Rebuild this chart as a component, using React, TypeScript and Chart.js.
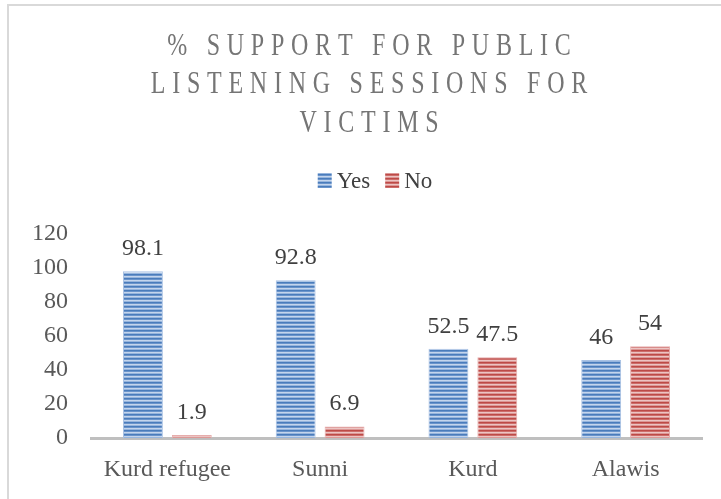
import React, { useEffect, useRef } from "react";
import { Chart, registerables } from "chart.js";

Chart.register(...registerables);

const categories = ["Kurd refugee", "Sunni", "Kurd", "Alawis"];
const yesValues = [98.1, 92.8, 52.5, 46];
const noValues = [1.9, 6.9, 47.5, 54];
const seriesNames = ["Yes", "No"];
const titleLines = ["% SUPPORT FOR PUBLIC", "LISTENING SESSIONS FOR", "VICTIMS"];
const yMin = 0;
const yMax = 120;
const yStep = 20;

const FONT = "'Liberation Serif', 'Times New Roman', serif";
const blueRows = ["#4a7cbb", "#6a94cb", "#c4d5ec", "#97b5dd"];
const redRows = ["#bd4a47", "#cd6d6a", "#ecc4c3", "#dc9896"];

function makePattern(rows: string[]) {
  const c = document.createElement("canvas");
  c.width = 4;
  c.height = rows.length;
  const x = c.getContext("2d")!;
  rows.forEach((col, i) => {
    x.fillStyle = col;
    x.fillRect(0, i, 4, 1);
  });
  return x.createPattern(c, "repeat")!;
}

export default function App() {
  const ref = useRef<HTMLCanvasElement | null>(null);

  useEffect(() => {
    if (!ref.current) return;
    const bluePat = makePattern(blueRows);
    const redPat = makePattern(redRows);
    const patterns = [bluePat, redPat];

    const overlay = {
      id: "overlay",
      afterDraw(chart: any) {
        const ctx = chart.ctx as CanvasRenderingContext2D;
        const cx = chart.width / 2;
        // Title
        ctx.save();
        ctx.fillStyle = "#757575";
        ctx.font = `32px ${FONT}`;
        ctx.textBaseline = "alphabetic";
        ctx.textAlign = "left";
        const sx = 0.75;
        const ls = 9;
        const baselines = [49, 87, 126];
        titleLines.forEach((line, i) => {
          const chars = [...line];
          const widths = chars.map((ch) => ctx.measureText(ch).width);
          const total = widths.reduce((a, b) => a + b, 0) + ls * (chars.length - 1);
          ctx.save();
          ctx.translate(cx, baselines[i]);
          ctx.scale(sx, 1);
          let x = -total / 2;
          chars.forEach((ch, k) => {
            ctx.fillText(ch, x, 0);
            x += widths[k] + ls;
          });
          ctx.restore();
        });
        ctx.restore();

        // Legend
        ctx.save();
        ctx.font = `23px ${FONT}`;
        ctx.textBaseline = "alphabetic";
        ctx.textAlign = "left";
        const boxW = 14;
        const boxH = 15;
        const gapBox = 5;
        const gapItem = 15;
        const itemWidths = seriesNames.map((n) => boxW + gapBox + ctx.measureText(n).width);
        const totalW = itemWidths.reduce((a, b) => a + b, 0) + gapItem * (seriesNames.length - 1);
        let lx = cx - totalW / 2 + 6;
        const legendBase = 182;
        seriesNames.forEach((n, i) => {
          ctx.fillStyle = patterns[i];
          ctx.fillRect(lx, legendBase - boxH, boxW, boxH);
          ctx.fillStyle = "#404040";
          ctx.fillText(n, lx + boxW + gapBox, legendBase);
          lx += itemWidths[i] + gapItem;
        });
        ctx.restore();

        // Data labels
        ctx.save();
        ctx.font = `24px ${FONT}`;
        ctx.fillStyle = "#404040";
        ctx.textAlign = "center";
        ctx.textBaseline = "alphabetic";
        chart.data.datasets.forEach((ds: any, di: number) => {
          const meta = chart.getDatasetMeta(di);
          meta.data.forEach((el: any, j: number) => {
            ctx.fillText(String(ds.data[j]), el.x, el.y - 16);
          });
        });
        ctx.restore();
      },
    };

    const chart = new Chart(ref.current, {
      type: "bar",
      data: {
        labels: categories,
        datasets: [
          {
            label: seriesNames[0],
            data: yesValues,
            backgroundColor: bluePat,
            borderColor: "#a9c2e4",
            borderWidth: 1,
            categoryPercentage: 0.64,
            barPercentage: 0.816,
          },
          {
            label: seriesNames[1],
            data: noValues,
            backgroundColor: redPat,
            borderColor: "#e6adac",
            borderWidth: 1,
            categoryPercentage: 0.64,
            barPercentage: 0.816,
          },
        ],
      },
      options: {
        responsive: false,
        animation: false,
        devicePixelRatio: 1,
        layout: { padding: { top: 228, left: 0, right: 27, bottom: 15 } },
        plugins: {
          legend: { display: false },
          title: { display: false },
          tooltip: { enabled: false },
        },
        scales: {
          x: {
            grid: { display: false, drawTicks: false },
            border: { display: true, color: "#bfbfbf", width: 3 },
            ticks: { color: "#595959", font: { size: 24, family: FONT }, padding: 17 },
          },
          y: {
            min: yMin,
            max: yMax,
            grid: { display: false, drawTicks: false },
            border: { display: false },
            ticks: {
              stepSize: yStep,
              color: "#595959",
              font: { size: 24, family: FONT },
              padding: 23,
            },
          },
        },
      },
      plugins: [overlay],
    });
    return () => chart.destroy();
  }, []);

  return (
    <div
      style={{
        position: "fixed",
        left: 0,
        top: 0,
        width: 721,
        height: 499,
        overflow: "hidden",
        background: "#fff",
      }}
    >
      <div
        style={{
          position: "absolute",
          left: 7,
          top: 4,
          width: 740,
          height: 530,
          border: "2px solid #d9d9d9",
          boxSizing: "border-box",
        }}
      >
        <canvas
          ref={ref}
          width={720}
          height={510}
          style={{ position: "absolute", left: 0, top: 0, width: 720, height: 510 }}
        />
      </div>
    </div>
  );
}
